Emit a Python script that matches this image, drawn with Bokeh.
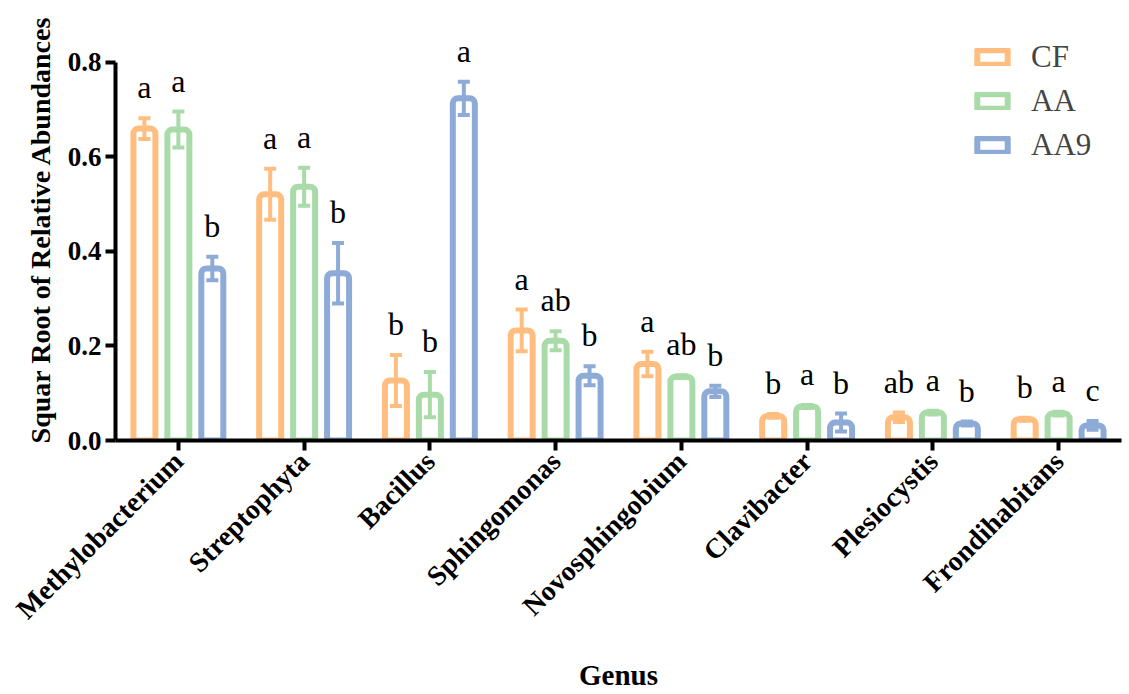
import numpy as np
from bokeh.plotting import figure
from bokeh.models import (ColumnDataSource, FactorRange, Range1d, FixedTicker,
                          PrintfTickFormatter, Whisker, TeeHead, Legend, LegendItem)
from bokeh.transform import dodge
from bokeh.core.properties import value
from bokeh.embed import file_html
from bokeh.resources import INLINE

genera = ["Methylobacterium", "Streptophyta", "Bacillus", "Sphingomonas",
          "Novosphingobium", "Clavibacter", "Plesiocystis", "Frondihabitans"]
groups = ["CF", "AA", "AA9"]

cf = [0.660, 0.521, 0.127, 0.233, 0.162, 0.052, 0.049, 0.045]
cf_err = [0.022, 0.054, 0.054, 0.044, 0.026, 0.004, 0.010, 0.003]
aa = [0.658, 0.537, 0.097, 0.211, 0.135, 0.072, 0.059, 0.057]
aa_err = [0.038, 0.040, 0.048, 0.020, 0.003, 0.003, 0.004, 0.004]
aa9 = [0.364, 0.354, 0.724, 0.137, 0.104, 0.038, 0.036, 0.032]
aa9_err = [0.025, 0.064, 0.035, 0.020, 0.012, 0.019, 0.004, 0.009]

cf_letters = ["a", "a", "b", "a", "a", "b", "ab", "b"]
aa_letters = ["a", "a", "b", "ab", "ab", "a", "a", "a"]
aa9_letters = ["b", "b", "a", "b", "b", "b", "b", "c"]

y_ticks = [0.0, 0.2, 0.4, 0.6, 0.8]
colors = ["#FFBE7F", "#A8DBA8", "#8DABD6"]
offsets = [-0.27, 0.0, 0.27]

series = {"CF": (cf, cf_err, cf_letters),
          "AA": (aa, aa_err, aa_letters),
          "AA9": (aa9, aa9_err, aa9_letters)}

data = {"genus": genera}
for g in groups:
    v, e, l = series[g]
    v = np.array(v); e = np.array(e)
    data[g] = v
    data[g + "_up"] = v + e
    data[g + "_lo"] = v - e
    data[g + "_let"] = l
src = ColumnDataSource(data)

FONT = "Liberation Serif"

p = figure(width=1125, height=694,
           x_range=FactorRange(*genera, range_padding=0),
           y_range=Range1d(0, 0.893),
           output_backend="svg", toolbar_location=None,
           min_border_left=115, min_border_right=4,
           min_border_top=18, min_border_bottom=254)

items = []
for g, off, col in zip(groups, offsets, colors):
    r = p.vbar(x=dodge("genus", off, range=p.x_range), top=g, width=0.175,
               source=src, fill_color=None, line_color=col, line_width=6,
               border_radius=(5, 5, 0, 0), line_join="round")
    items.append(LegendItem(label=g, renderers=[r]))
    w = Whisker(base=dodge("genus", off, range=p.x_range), upper=g + "_up",
                lower=g + "_lo", source=src, dimension="height",
                line_color=col, line_width=4, level="glyph",
                upper_head=TeeHead(size=12, line_color=col, line_width=4),
                lower_head=TeeHead(size=12, line_color=col, line_width=4))
    p.add_layout(w)
    p.text(x=dodge("genus", off, range=p.x_range), y=g + "_up", text=g + "_let",
           source=src, text_font=value(FONT), text_font_size="32px",
           text_align="center", text_baseline="alphabetic", y_offset=-31,
           text_color="black")

legend = Legend(items=items, location=(858, 277), border_line_color=None,
                background_fill_alpha=0, padding=0, margin=0,
                glyph_width=38, glyph_height=18, label_standoff=20, spacing=8,
                label_text_font=FONT, label_text_font_size="31px")
p.add_layout(legend)

p.xgrid.visible = False
p.ygrid.visible = False
p.outline_line_color = None

for ax in (p.xaxis[0], p.yaxis[0]):
    ax.axis_line_width = 4
    ax.axis_line_color = "black"
    ax.major_tick_line_width = 4
    ax.major_tick_out = 10
    ax.major_tick_in = 0
    ax.minor_tick_line_color = None
    ax.major_label_text_font = FONT
    ax.major_label_text_font_style = "bold"
    ax.major_label_text_color = "black"
    ax.axis_label_text_font = FONT
    ax.axis_label_text_font_style = "bold"
    ax.axis_label_text_color = "black"

p.yaxis.ticker = FixedTicker(ticks=y_ticks)
p.yaxis.formatter = PrintfTickFormatter(format="%.1f")
p.yaxis.bounds = (0, 0.8)
p.yaxis.major_label_text_font_size = "27px"
p.yaxis.major_label_standoff = 4
p.yaxis.axis_label = "Squar Root of Relative Abundances"
p.yaxis.axis_label_text_font_size = "28px"
p.yaxis.axis_label_standoff = 9

p.xaxis.major_label_orientation = np.pi / 4
p.xaxis.major_label_text_font_size = "28px"
p.xaxis.major_label_standoff = 6
p.xaxis.axis_label = "Genus"
p.xaxis.axis_label_text_font_size = "29px"
p.xaxis.axis_label_standoff = 20

open("out.html", "w").write(file_html(p, INLINE))
